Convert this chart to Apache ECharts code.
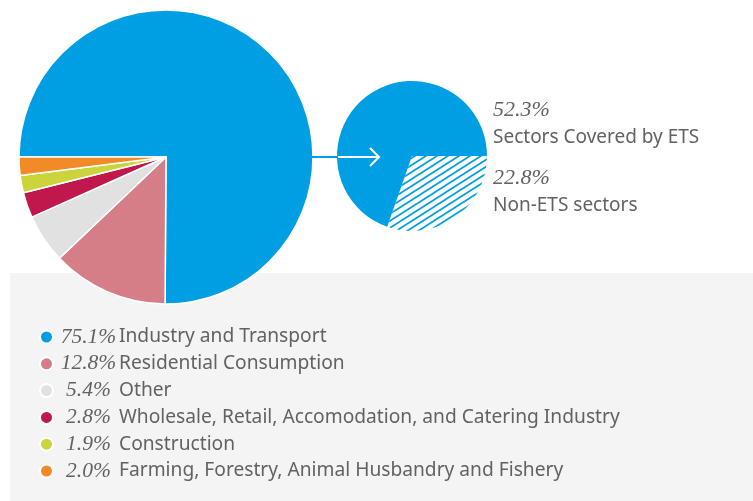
<!DOCTYPE html>
<html>
<head>
<meta charset="utf-8">
<script src="https://cdn.jsdelivr.net/npm/echarts@6/dist/echarts.min.js"></script>
<style>
  html, body { margin: 0; padding: 0; background: #fff; }
  #chart { width: 753px; height: 501px; }
</style>
</head>
<body>
<div id="chart"></div>
<script>
// data
const sectorNames = [
  'Industry and Transport',
  'Residential Consumption',
  'Other',
  'Wholesale, Retail, Accomodation, and Catering Industry',
  'Construction',
  'Farming, Forestry, Animal Husbandry and Fishery'
]
const sectorShares = [75.1, 12.8, 5.4, 2.8, 1.9, 2.0]
const sectorColors = ['#009FE3', '#D67E88', '#E1E1E1', '#C0184C', '#CBD43A', '#F28A28']

const etsNames = ['Non-ETS sectors', 'Sectors Covered by ETS']
const etsShares = [22.8, 52.3]

const textColor = '#626262'
const blue = sectorColors[0]
const sansFont = '"Noto Sans"'

// hatch pattern for the non-ETS slice
const makeHatch = () => {
  const w = 11, h = 7
  const c = document.createElement('canvas')
  c.width = w
  c.height = h
  const ctx = c.getContext('2d')
  ctx.fillStyle = '#ffffff'
  ctx.fillRect(0, 0, w, h)
  ctx.strokeStyle = blue
  ctx.lineWidth = 1.8
  for (let k = -1; k <= 1; k++) {
    ctx.beginPath()
    ctx.moveTo(-w, h + k * h + h)
    ctx.lineTo(2 * w, k * h - h)
    ctx.stroke()
  }
  return c
}
const hatch = makeHatch()

const pctOf = name => {
  const i = sectorNames.indexOf(name)
  return sectorShares[i].toFixed(1) + '%'
}

const chart = echarts.init(document.getElementById('chart'), null, { renderer: 'canvas' })

// labels next to the small pie (top: ETS, bottom: non-ETS)
const sideLabels = [
  { pct: etsShares[1].toFixed(1) + '%', name: etsNames[1], y: 99 },
  { pct: etsShares[0].toFixed(1) + '%', name: etsNames[0], y: 167 }
]
const sideGraphics = []
sideLabels.forEach(l => {
  sideGraphics.push({
    type: 'text', left: 493, top: l.y, z: 10,
    style: { text: l.pct, fill: textColor, font: 'italic 22px "Liberation Serif"' }
  })
  sideGraphics.push({
    type: 'text', left: 493, top: l.y + 29, z: 10,
    style: { text: l.name, fill: textColor, font: '19px ' + sansFont }
  })
})

const option = {
  animation: false,
  graphic: [
    { type: 'rect', z: 0, shape: { x: 10, y: 273, width: 743, height: 228 }, style: { fill: '#F4F4F4' } },
    // arrow from big pie to small pie
    { type: 'line', z: 100, shape: { x1: 312, y1: 157, x2: 338, y2: 157 }, style: { stroke: blue, lineWidth: 2 } },
    { type: 'line', z: 100, shape: { x1: 338, y1: 157, x2: 379, y2: 157 }, style: { stroke: '#ffffff', lineWidth: 2 } },
    { type: 'polyline', z: 100, shape: { points: [[370, 148], [379, 157], [370, 166]] }, style: { stroke: '#ffffff', lineWidth: 2, fill: null } },
    ...sideGraphics
  ],
  legend: {
    orient: 'vertical',
    left: 34,
    top: 321,
    itemWidth: 13,
    itemHeight: 13,
    itemGap: 4.8,
    icon: 'circle',
    selectedMode: false,
    data: sectorNames,
    formatter: name => `{p|${pctOf(name)}}{n|${name}}`,
    textStyle: {
      rich: {
        p: { fontFamily: 'Liberation Serif', fontStyle: 'italic', fontSize: 21.5, width: 61, align: 'right', color: textColor, lineHeight: 21 },
        n: { fontFamily: 'Noto Sans', fontSize: 19.2, color: textColor, padding: [0, 0, 0, 0], lineHeight: 21 }
      }
    }
  },
  series: [
    {
      type: 'pie',
      z: 5,
      center: [166, 157],
      radius: 147,
      startAngle: 180,
      clockwise: true,
      silent: true,
      label: { show: false },
      labelLine: { show: false },
      itemStyle: { borderColor: '#ffffff', borderWidth: 1.5 },
      data: sectorNames.map((n, i) => ({ name: n, value: sectorShares[i], itemStyle: { color: sectorColors[i] } }))
    },
    {
      type: 'pie',
      z: 5,
      center: [412, 156],
      radius: 75,
      startAngle: 0,
      clockwise: true,
      silent: true,
      label: { show: false },
      labelLine: { show: false },
      data: [
        { name: etsNames[0], value: etsShares[0], itemStyle: { color: { image: hatch, repeat: 'repeat' } } },
        { name: etsNames[1], value: etsShares[1], itemStyle: { color: blue } }
      ]
    }
  ]
}

chart.setOption(option)
</script>
</body>
</html>
